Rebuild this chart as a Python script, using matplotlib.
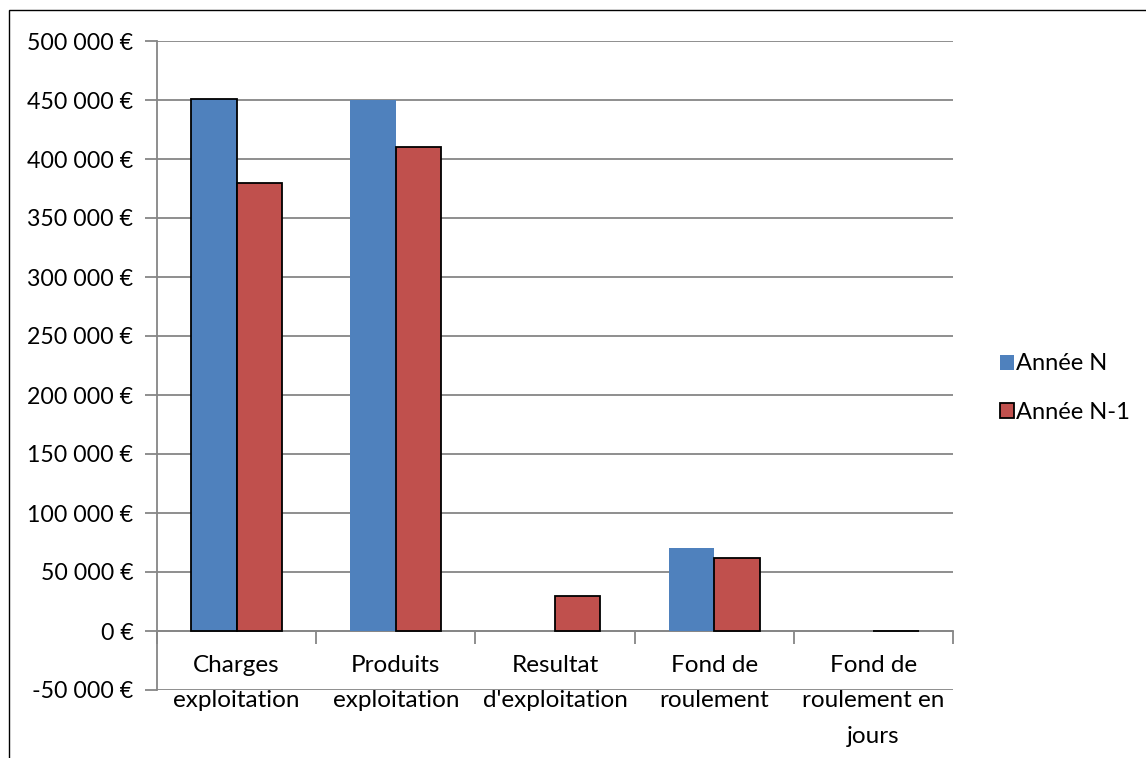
import matplotlib
matplotlib.use("Agg")
import matplotlib.pyplot as plt
from matplotlib.patches import Rectangle, Patch
from matplotlib.ticker import FixedLocator, FuncFormatter
import numpy as np

plt.rcParams['font.family'] = ['Lato', 'DejaVu Sans']

categories = ["Charges\nexploitation", "Produits\nexploitation", "Resultat\nd'exploitation",
              "Fond de\nroulement", "Fond de\nroulement en\njours"]
annee_n = [451000, 450000, 0, 70000, 0]
annee_n1 = [380000, 410000, 30000, 62000, 60]
series_labels = ["Année N", "Année N-1"]
y_ticks = list(range(-50000, 500001, 50000))

blue = "#4F81BD"
red = "#C0504D"
grid_col = "#868686"

fig = plt.figure(figsize=(11.46, 7.58), dpi=100)
ax = fig.add_axes([157 / 1146, 1 - 690 / 758, (953 - 157) / 1146, (690 - 41) / 758])

x = np.arange(len(categories))
w = 0.2857
n_edges = ["black", "none", "none", "none", "none"]
for xi, v, ec in zip(x, annee_n, n_edges):
    ax.bar(xi - w / 2, v, width=w, color=blue, edgecolor=ec, linewidth=1.3, zorder=3)
ax.bar(x + w / 2, annee_n1, width=w, color=red, edgecolor="black", linewidth=1.3, zorder=3)

ax.set_xlim(-0.5, len(categories) - 0.5)
ax.set_ylim(y_ticks[0], y_ticks[-1])

# y axis
ax.yaxis.set_major_locator(FixedLocator(y_ticks))
ax.yaxis.set_major_formatter(FuncFormatter(
    lambda v, p: (f"{int(v):,}".replace(",", " ") + " €") if v != 0 else "0 €"))
ax.grid(axis="y", color=grid_col, linewidth=1.3, zorder=0)
ax.tick_params(axis="y", length=9, width=1.3, color=grid_col, labelsize=16.7, pad=8)

# x axis sits on zero
ax.spines["bottom"].set_position(("data", 0))
ax.spines["bottom"].set_color(grid_col)
ax.spines["bottom"].set_linewidth(1.3)
ax.spines["left"].set_color(grid_col)
ax.spines["left"].set_linewidth(1.3)
ax.spines["top"].set_visible(False)
ax.spines["right"].set_visible(False)
ax.set_xticks(np.arange(-0.5, len(categories), 1.0))
ax.set_xticklabels([])
ax.set_xticks(x, minor=True)
ax.set_xticklabels(categories, minor=True, linespacing=1.85)
ax.tick_params(axis="x", which="major", length=9, width=1.3, color=grid_col)
ax.tick_params(axis="x", which="minor", length=0, labelsize=17.5, pad=17)
for t in ax.get_xticklabels(minor=True):
    t.set_verticalalignment("top")

handles = [Patch(facecolor=blue, edgecolor="none"),
           Patch(facecolor=red, edgecolor="black", linewidth=1.3)]
fig.legend(handles, series_labels, loc="center left",
           bbox_to_anchor=(988 / 1146, 1 - 388 / 758), frameon=False,
           fontsize=17, handlelength=0.6, handleheight=0.6,
           handletextpad=0.1, labelspacing=1.15, borderpad=0.0)

fig.patches.append(Rectangle((9 / 1146, -0.1), 1.2, 1 - 10 / 758 + 0.1,
                             transform=fig.transFigure, fill=False,
                             edgecolor="black", linewidth=1.0))

fig.savefig("out.png", dpi=100)
